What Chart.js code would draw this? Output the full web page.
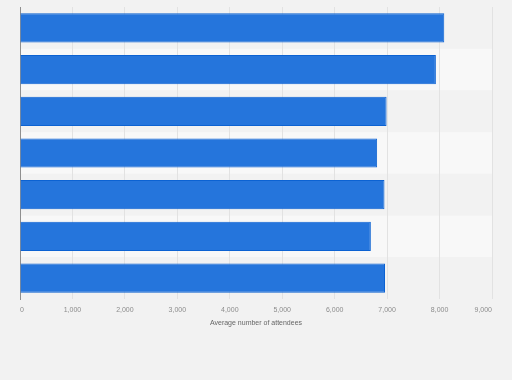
<!DOCTYPE html>
<html>
<head>
<meta charset="utf-8">
<script src="https://cdn.jsdelivr.net/npm/chart.js@4"></script>
<style>
html,body{margin:0;padding:0;background:#f2f2f2;}
#wrap{width:512px;height:380px;position:relative;}
</style>
</head>
<body>
<div id="wrap"><canvas id="c" width="512" height="380"></canvas></div>
<script>
const categories = ["1", "2", "3", "4", "5", "6", "7"];
const attendees = [8090, 7930, 6990, 6810, 6950, 6690, 6960];
const xTicks = [0, 1000, 2000, 3000, 4000, 5000, 6000, 7000, 8000, 9000];
const xTitle = "Average number of attendees";

const bandPlugin = {
  id: 'bands',
  beforeDraw(chart) {
    const ctx = chart.ctx, a = chart.chartArea, y = chart.scales.y;
    ctx.save();
    ctx.fillStyle = '#f2f2f2';
    ctx.fillRect(0, 0, chart.width, chart.height);
    const n = categories.length;
    const h = (a.bottom - a.top) / n;
    for (let i = 0; i < n; i++) {
      const c = y.getPixelForValue(i);
      ctx.fillStyle = i % 2 === 0 ? '#f2f2f2' : '#f8f8f8';
      ctx.fillRect(a.left, c - h / 2, a.right - a.left, h);
    }
    ctx.restore();
  }
};

new Chart(document.getElementById('c'), {
  type: 'bar',
  data: {
    labels: categories,
    datasets: [{
      data: attendees,
      backgroundColor: '#2575dc',
      borderColor: '#0c62d2',
      borderWidth: 1,
      barPercentage: 0.7,
      categoryPercentage: 1.0
    }]
  },
  options: {
    indexAxis: 'y',
    responsive: false,
    animation: false,
    devicePixelRatio: 1,
    layout: { padding: { left: 0, right: 20, top: 7, bottom: 53 } },
    plugins: { legend: { display: false }, tooltip: { enabled: false } },
    scales: {
      x: {
        min: 0, max: 9000,
        afterBuildTicks(s) { s.ticks = xTicks.map(v => ({ value: v })); },
        afterFit(s) { s.height = 28; },
        grid: { color: '#e2e2e2', lineWidth: 1, drawTicks: false },
        border: { display: false },
        ticks: {
          padding: 7,
          align: 'inner',
          color: '#8c8c8c',
          font: { family: 'Liberation Sans, Arial, sans-serif', size: 7 },
          callback: v => v.toLocaleString('en-US')
        },
        title: {
          display: true, text: xTitle, color: '#666',
          padding: { top: 0, bottom: 0 },
          font: { family: 'Liberation Sans, Arial, sans-serif', size: 7 }
        }
      },
      y: {
        afterFit(s) { s.width = 20; },
        grid: { display: false },
        border: { display: true, color: '#8f8f8f', width: 1 },
        ticks: { display: false }
      }
    }
  },
  plugins: [bandPlugin]
});
</script>
</body>
</html>
